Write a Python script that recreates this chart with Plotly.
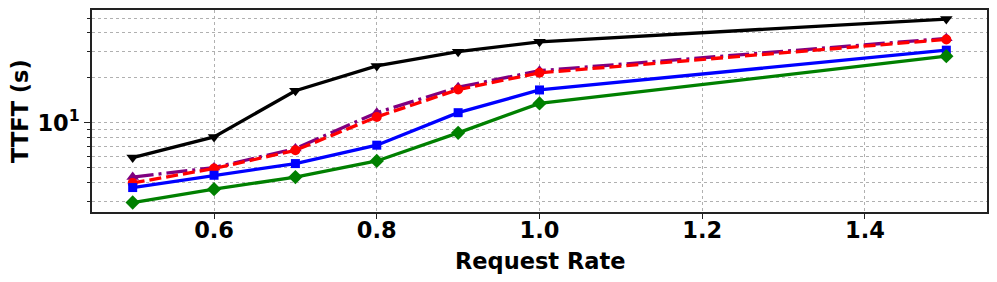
import plotly.graph_objects as go

request_rate = [0.5, 0.6, 0.7, 0.8, 0.9, 1.0, 1.5]
ttft_black = [5.87, 8.06, 16.4, 24.0, 29.9, 34.8, 49.4]
ttft_purple = [4.35, 5.03, 6.74, 11.7, 17.3, 22.3, 36.7]
ttft_red = [3.97, 4.96, 6.56, 10.96, 16.7, 21.6, 36.1]
ttft_blue = [3.70, 4.47, 5.35, 7.10, 11.7, 16.6, 30.6]
ttft_green = [2.94, 3.61, 4.35, 5.57, 8.58, 13.5, 27.9]

x_tick_vals = [0.6, 0.8, 1.0, 1.2, 1.4]
x_tick_text = ["0.6", "0.8", "1.0", "1.2", "1.4"]
y_major_vals = [10]
y_major_text = ["10<sup>1</sup>"]
y_minor_vals = [3, 4, 5, 6, 7, 8, 9, 20, 30, 40, 50]

series = [
    (ttft_black, "black", "solid", "triangle-down", 11),
    (ttft_purple, "purple", "21px,5px,3px,5px", "triangle-up", 11),
    (ttft_red, "red", "12px,5px", "circle", 10),
    (ttft_blue, "blue", "solid", "square", 9),
    (ttft_green, "green", "solid", "diamond", 11),
]

fig = go.Figure()
for vals, color, dash, sym, msize in series:
    fig.add_trace(go.Scatter(
        x=request_rate, y=vals, mode="lines+markers",
        line=dict(color=color, width=3.3, dash=dash),
        marker=dict(symbol=sym, size=msize, color=color),
        showlegend=False,
    ))

bold = dict(family="DejaVu Sans", size=22.5, color="black", weight="bold")

# page body has an 8px default margin, so the figure is sized to fit the window
fig.update_layout(
    width=989, height=274,
    margin=dict(l=84, r=10, t=2, b=70),
    paper_bgcolor="white", plot_bgcolor="white",
    font=bold,
)
fig.update_xaxes(
    range=[0.45, 1.55], automargin=False,
    tickmode="array", tickvals=x_tick_vals, ticktext=x_tick_text,
    ticks="outside", ticklen=5, tickwidth=1.2, tickcolor="#222",
    ticklabelstandoff=-8,
    showline=True, linecolor="#222", linewidth=1.5, mirror=True,
    showgrid=True, gridcolor="#b0b0b0", griddash="dot", gridwidth=1,
    zeroline=False, tickfont=bold,
)
fig.update_yaxes(
    type="log", range=[0.405, 1.754], automargin=False,
    tickmode="array", tickvals=y_major_vals, ticktext=y_major_text,
    ticks="outside", ticklen=6, tickwidth=1.2, tickcolor="#222",
    showline=True, linecolor="#222", linewidth=1.5, mirror=True,
    showgrid=True, gridcolor="#b0b0b0", griddash="dot", gridwidth=1,
    minor=dict(tickmode="array", tickvals=y_minor_vals, ticks="outside",
               ticklen=3.5, tickcolor="#222", showgrid=True,
               gridcolor="#b0b0b0", griddash="dot", gridwidth=1),
    zeroline=False, tickfont=bold,
)

fig.add_annotation(text="Request Rate", xref="paper", yref="paper",
                   x=0.5, y=-0.245, xanchor="center", yanchor="middle",
                   showarrow=False, font=bold)
fig.add_annotation(text="TTFT (s)", xref="paper", yref="paper",
                   x=-0.0805, y=0.5, xanchor="center", yanchor="middle",
                   textangle=-90, showarrow=False, font=bold)

fig.write_html("out.html")
